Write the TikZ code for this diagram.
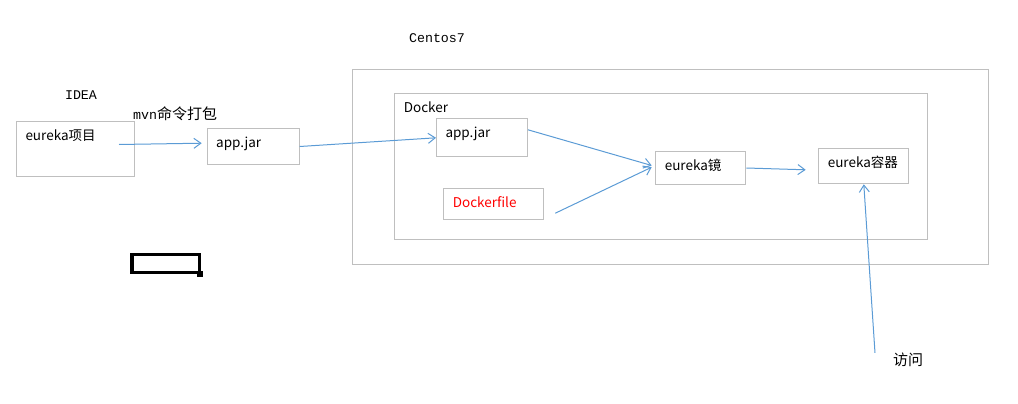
\documentclass[tikz,border=0pt]{standalone}
\usepackage{fontspec}
\usepackage{tikz}
\usetikzlibrary{arrows.meta}
\newfontfamily\cjkfont{Noto Sans CJK SC}
\newfontfamily\monofont{Liberation Mono}
\definecolor{boxgray}{HTML}{BFBFBF}
\definecolor{linkblue}{HTML}{5B9BD5}
\definecolor{filered}{HTML}{FF0000}
\tikzset{
  frame/.style   = {draw=boxgray, line width=1pt, anchor=north west, inner sep=0pt},
  box/.style     = {frame, inner xsep=9pt, align=left, text height=10pt,
                    font=\cjkfont\fontsize{13.5}{16}\selectfont},
  link/.style    = {draw=linkblue, line width=1pt, -{Straight Barb[length=7pt,width=10pt]}},
  caption/.style = {inner sep=0pt, font=\monofont\fontsize{13.3}{16}\selectfont},
}

\begin{document}
\begin{tikzpicture}[x=1pt, y=-1pt]
      \useasboundingbox (0,0) rectangle (1018,404);
      %hosts first, boxes on top
      \node[frame, minimum width=636pt, minimum height=195pt] (centos) at (352,69) {};
      \node[box, text width=515pt, minimum height=146pt, text depth=118pt] (docker) at (394.3,93) {Docker};

      \node[box, text width=99.7pt, minimum height=54.4pt, text depth=26.4pt] (proj) at (16,121.3) {eureka项目};
      \node[box, text width=74pt, minimum height=36.6pt, text depth=8.6pt] (app1) at (206.7,127.7) {app.jar};
      \node[box, text width=73pt, minimum height=38pt, text depth=10pt] (app2) at (436,118.3) {app.jar};
      \node[box, text width=82pt, minimum height=31pt, text depth=3pt, text=filered] (dfile) at (443.3,188.3) {Dockerfile};
      \node[box, text width=72pt, minimum height=33.6pt, text depth=5.6pt] (img) at (655.3,150.7) {eureka镜};
      \node[box, text width=72pt, minimum height=35pt, text depth=7pt] (ctr) at (818.3,148.3) {eureka容器};

      \node[caption] (idea) at (81,95) {IDEA};
      \node[caption] (centos7) at (437,38) {Centos7};
      \node[caption, anchor=west] (mvn) at (133,114) {mvn{\cjkfont\fontsize{15}{16}\selectfont 命令打包}};
      \node[caption, anchor=west, font=\cjkfont\fontsize{15}{16}\selectfont] (visit) at (893,360) {访问};

      \draw[link] ([xshift=-15.7pt,yshift=4.5pt]proj.east) -- ([xshift=-5pt,yshift=3.3pt]app1.west);
      \draw[link] (app1.east) -- (app2.west);
      \draw[link] ([yshift=8pt]app2.east) -- ([xshift=-3.6pt,yshift=2.5pt]img.west);
      \draw[link] ([xshift=11pt,yshift=-8.9pt]dfile.east) -- ([xshift=-3.6pt,yshift=0.8pt]img.west);
      \draw[link] (img.east) -- ([xshift=-12.6pt,yshift=-3.5pt]ctr.west);
      \draw[link] ([xshift=-18pt]visit.north west) -- (ctr.south);

      %stray cell
      \draw[line width=3.5pt] (132,254.5) rectangle (199.5,272.5);
      \fill (197,270.5) rectangle (203,276.5);
  \end{tikzpicture}
\end{document}
